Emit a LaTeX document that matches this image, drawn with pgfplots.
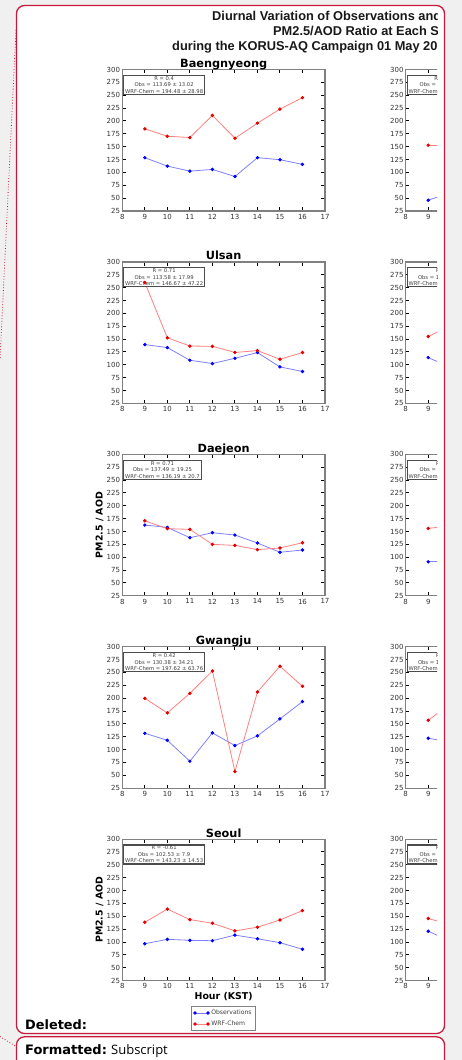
\documentclass[border=0pt]{standalone}
\usepackage{fontspec}
\setmainfont{DejaVu Sans}
\newfontfamily\arialfont{Liberation Sans}
\newfontfamily\opensans{Open Sans}
\usepackage{pgfplots}
\pgfplotsset{compat=1.18}

\definecolor{balloon}{RGB}{200,25,60}
\definecolor{pagebg}{RGB}{240,240,240}

% one matplotlib-like panel, 1pt = 1px of the reference
\pgfplotsset{
  panel/.style={
    scale only axis, width=202.7pt, height=141.5pt,
    anchor=north west,
    xmin=8, xmax=17, ymin=25, ymax=300,
    xtick={8,...,17}, ytick={25,50,...,300},
    tick align=inside, major tick length=3.6pt,
    axis line style={black!50, line width=1.2pt},
    tick style={black, line width=1pt},
    /pgf/number format/assume math mode=true,
    ticklabel style={font=\fontsize{7}{8}\selectfont, text=black!80},
    xticklabel style={inner sep=0pt, yshift=-2.8pt},
    yticklabel style={inner sep=0pt, xshift=-2pt},
    title style={font=\fontsize{11.3}{13}\selectfont\bfseries, at={(0.5,1)}, anchor=base, yshift=-4pt},
    xlabel style={font=\fontsize{9.4}{11}\selectfont\bfseries, at={(axis description cs:0.5,-0.114)}, anchor=center},
    ylabel style={font=\fontsize{9.4}{11}\selectfont\bfseries, at={(axis description cs:-0.1125,0.5)}, anchor=center},
  },
  obs/.style={draw=blue!50, line width=0.8pt, mark=*, mark size=1.3pt, mark options={draw=blue, fill=blue}},
  wrf/.style={draw=red!50, line width=0.8pt, mark=*, mark size=1.3pt, mark options={draw=red!90!black, fill=red!90!black}},
}

\newcommand{\statbox}[3]{%
  \node[draw=black!70, line width=1.1pt, fill=white, text=black!75, align=center,
        font=\fontsize{5.25}{6.5}\selectfont, inner xsep=1.5pt, inner ysep=1pt,
        anchor=north west] at (rel axis cs:0.004,0.962)
        {R = #1\\Obs = #2\\WRF-Chem = #3};}

\begin{document}
\begin{tikzpicture}[x=1pt, y=1pt]
\useasboundingbox (0,0) rectangle (462,-1060);

% axis corners (top left of each panel)
\coordinate (L1) at (122.3,-69.5);
\coordinate (L2) at (122.3,-261.9);
\coordinate (L3) at (122.3,-454.3);
\coordinate (L4) at (122.3,-646.7);
\coordinate (L5) at (122.3,-839.1);
\coordinate (R1) at (405.7,-69.5);
\coordinate (R2) at (405.7,-261.9);
\coordinate (R3) at (405.7,-454.3);
\coordinate (R4) at (405.7,-646.7);
\coordinate (R5) at (405.7,-839.1);

% word comment balloons
\fill[pagebg] (0,0) rectangle (462,-1060);
\draw[balloon, line width=1.3pt, fill=white, rounded corners=8pt] (16.5,-5.5) rectangle (444.5,-1033.5);
\begin{scope}
  \clip (0,0) rectangle (462,-1060);
  \draw[balloon, line width=1.3pt, fill=white, rounded corners=8pt] (16.5,-1036.8) rectangle (444.5,-1080);
\end{scope}
\draw[balloon, dotted, line width=0.8pt] (16,-30) -- (0,-360);
\draw[balloon, dotted, line width=0.8pt] (0,-1036.5) -- (16,-1046.5);
\node[anchor=base west, inner sep=0pt, font=\bfseries\fontsize{12.9}{15}\selectfont] at (25,-1029.5) {Deleted:};
\node[anchor=base west, inner sep=0pt] at (25,-1054.5)
  {{\bfseries\fontsize{13}{15}\selectfont Formatted:} {\opensans\fontsize{13}{15}\selectfont Subscript}};

% figure title, cut at the right edge as in the screenshot
\begin{scope}
  \clip (0,0) rectangle (437,-1060);
  \begin{scope}[every node/.style={anchor=base west, inner sep=0pt, text=black!90,
      font=\arialfont\fontsize{12.8}{15}\selectfont\bfseries}]
    \node at (212,-20.7) {Diurnal Variation of Observations and WRF-Chem};
    \node at (273,-35.7) {PM2.5/AOD Ratio at Each Site};
    \node at (172,-50.7) {during the KORUS-AQ Campaign 01 May 2016};
  \end{scope}
\end{scope}

% left column
\begin{axis}[panel, at={(L1)}, title=Baengnyeong]
\addplot[obs] coordinates {(9,128.6) (10,112.2) (11,102.5) (12,105.8) (13,92) (14,128.6) (15,124.7) (16,115.6)};
\addplot[wrf] coordinates {(9,184.7) (10,170.3) (11,167.8) (12,210.7) (13,166.4) (14,195.7) (15,223) (16,245.3)};
\statbox{0.4}{113.69 ± 13.02}{194.48 ± 28.98}
\end{axis}

\begin{axis}[panel, at={(L2)}, title=Ulsan]
\addplot[obs] coordinates {(9,139.3) (10,133.5) (11,108.9) (12,102.5) (13,112.7) (14,123.8) (15,96) (16,87)};
\addplot[wrf] coordinates {(9,260) (10,152.5) (11,136.5) (12,136) (13,124) (14,127.6) (15,110.8) (16,123.8)};
\statbox{0.71}{113.58 ± 17.99}{146.67 ± 47.22}
\end{axis}

\begin{axis}[panel, at={(L3)}, title=Daejeon, ylabel={PM2.5 / AOD}]
\addplot[obs] coordinates {(9,162.5) (10,158) (11,137.9) (12,147.6) (13,143.1) (14,127.6) (15,109.6) (16,114)};
\addplot[wrf] coordinates {(9,170.8) (10,155.4) (11,154.2) (12,125) (13,123) (14,114.7) (15,118) (16,128.2)};
\statbox{0.71}{137.49 ± 19.25}{136.19 ± 20.7}
\end{axis}

\begin{axis}[panel, at={(L4)}, title=Gwangju]
\addplot[obs] coordinates {(9,131.7) (10,118.2) (11,77.4) (12,132.5) (13,107.9) (14,126.7) (15,159.7) (16,193.3)};
\addplot[wrf] coordinates {(9,199.7) (10,171.3) (11,209.4) (12,252.8) (13,57.4) (14,212) (15,262) (16,223)};
\statbox{0.42}{130.38 ± 34.21}{197.62 ± 63.76}
\end{axis}

\begin{axis}[panel, at={(L5)}, title=Seoul, ylabel={PM2.5 / AOD}, xlabel={Hour (KST)},
  legend style={at={(0.5,-0.18)}, anchor=north, draw=black!50, line width=0.6pt,
    inner xsep=2pt, inner ysep=1.5pt, row sep=1pt, cells={anchor=west},
    font=\fontsize{6.1}{7}\selectfont\color{black!75}},
  legend image code/.code={\draw[mark repeat=2, mark phase=1, #1] plot coordinates {(0pt,0pt) (6.5pt,0pt) (13pt,0pt)};}]
\addplot[obs] coordinates {(9,96.7) (10,105.2) (11,103.3) (12,102.5) (13,113.5) (14,106.4) (15,98.7) (16,86)};
\addlegendentry{Observations}
\addplot[wrf] coordinates {(9,138.5) (10,164) (11,143.6) (12,136.5) (13,121.7) (14,128.8) (15,142.9) (16,161)};
\addlegendentry{WRF-Chem}
\statbox{-0.61}{102.53 ± 7.9}{143.23 ± 14.53}
\end{axis}

% right column, only its left edge shows
\begin{scope}
\clip (370,0) rectangle (437,-1060);
\begin{axis}[panel, at={(R1)}]
\addplot[obs] coordinates {(9,46) (10,61)};
\addplot[wrf] coordinates {(9,153) (10,153)};
\statbox{0.35}{58.21 ± 9.47}{152.34 ± 8.12}
\end{axis}
\begin{axis}[panel, at={(R2)}]
\addplot[obs] coordinates {(9,114) (10,95)};
\addplot[wrf] coordinates {(9,155) (10,176)};
\statbox{0.52}{104.71 ± 12.38}{181.06 ± 19.44}
\end{axis}
\begin{axis}[panel, at={(R3)}]
\addplot[obs] coordinates {(9,91) (10,91)};
\addplot[wrf] coordinates {(9,156) (10,161)};
\statbox{0.28}{101.35 ± 9.62}{163.87 ± 11.05}
\end{axis}
\begin{axis}[panel, at={(R4)}]
\addplot[obs] coordinates {(9,122) (10,115)};
\addplot[wrf] coordinates {(9,157) (10,190)};
\statbox{0.47}{118.26 ± 15.73}{184.52 ± 24.61}
\end{axis}
\begin{axis}[panel, at={(R5)}]
\addplot[obs] coordinates {(9,121) (10,101)};
\addplot[wrf] coordinates {(9,145.6) (10,134)};
\statbox{0.12}{109.84 ± 8.35}{139.72 ± 10.18}
\end{axis}
\end{scope}

\end{tikzpicture}
\end{document}
